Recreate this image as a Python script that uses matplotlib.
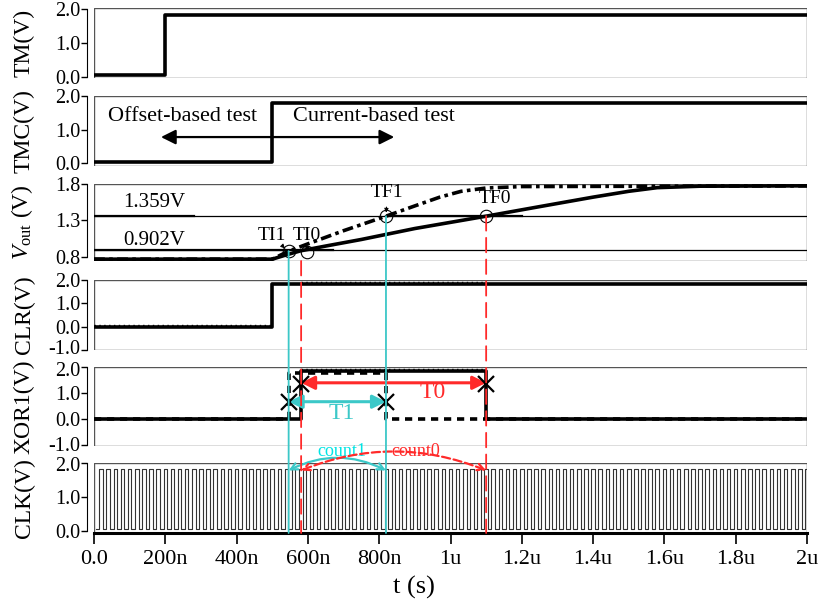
import numpy as np
import matplotlib
matplotlib.use("Agg")
import matplotlib.pyplot as plt
from matplotlib.patches import Rectangle, FancyArrowPatch, ConnectionPatch
from matplotlib.transforms import ScaledTranslation

plt.rcParams["font.family"] = ["Liberation Serif", "DejaVu Serif"]
plt.rcParams["mathtext.fontset"] = "custom"
plt.rcParams["mathtext.rm"] = "Liberation Serif"
plt.rcParams["mathtext.it"] = "Liberation Serif:italic"

# ---- data (time in us) ----
t_tm = [0.0, 0.2, 2.0]
tm = [0.06, 1.82, 1.82]

t_tmc = [0.0, 0.5, 2.0]
tmc = [0.04, 1.8, 1.8]

# Vout of the two runs (solid = case 0, dashed = case 1)
t_v0 = [0.0, 0.50, 0.54, 0.58, 0.65, 0.75, 0.90, 1.10, 1.25, 1.40, 1.50, 1.58, 1.70, 2.0]
v0 = [0.77, 0.77, 0.83, 0.885, 0.95, 1.04, 1.19, 1.359, 1.49, 1.62, 1.70, 1.75, 1.77, 1.775]
t_v1 = [0.0, 0.50, 0.546, 0.60, 0.70, 0.819, 0.90, 0.97, 1.03, 1.10, 1.20, 2.0]
v1 = [0.77, 0.77, 0.88, 0.98, 1.16, 1.359, 1.50, 1.62, 1.70, 1.745, 1.765, 1.775]
v_hi, v_lo = 1.359, 0.902

t_clr = [0.0, 0.5, 2.0]
clr = [0.0, 1.83, 1.83]

t_xor0 = [0.0, 0.581, 1.10, 2.0]
xor0 = [0.0, 1.84, 0.0, 0.0]
t_xor1 = [0.0, 0.546, 0.819, 2.0]
xor1 = [0.0, 1.78, 0.0, 0.0]

clk_period = 0.02   # 50 MHz
clk_hi, clk_lo = 1.82, 0.04

ti1, ti0, tf1, tf0 = 0.546, 0.581, 0.819, 1.10

xticks = [0.0, 0.2, 0.4, 0.6, 0.8, 1.0, 1.2, 1.4, 1.6, 1.8, 2.0]
xticklabels = ["0.0", "200n", "400n", "600n", "800n", "1u", "1.2u", "1.4u", "1.6u", "1.8u", "2u"]

CYAN = "#3cc8c8"
RED = "#ff2a2a"
LW = 2.6
YTICK_FS = 14.5

W, H = 821, 605
fig = plt.figure(figsize=(W / 100, H / 100), dpi=100)


def mkax(top, bot, ylim, yticks, ylabel):
    ax = fig.add_axes([94 / W, 1 - bot / H, (807 - 94) / W, (bot - top) / H])
    ax.set_xlim(0, 2.0)
    ax.set_ylim(*ylim)
    ax.tick_params(axis="y", direction="out", length=4, width=1, pad=1, labelsize=YTICK_FS)
    ax.set_yticks(yticks)
    ax.set_yticklabels([f"{v:.1f}" for v in yticks], fontsize=YTICK_FS)
    for s in ("top", "right", "bottom"):
        ax.spines[s].set_visible(False)
    ax.spines["left"].set_position(("outward", 5))
    ax.spines["left"].set_bounds(min(yticks), max(yticks))
    ax.add_patch(Rectangle((0, 0), 1, 1, transform=ax.transAxes, fill=False,
                           ec="#555555", lw=1.0, zorder=1))
    ax.set_xticks([])
    ax.set_ylabel(ylabel, fontsize=17)
    ax.yaxis.set_label_coords(-0.083, 0.5)
    return ax


def nudge(ax, idx, dy_px):
    lab = ax.yaxis.get_major_ticks()[idx].label1
    lab.set_transform(lab.get_transform() + ScaledTranslation(0, dy_px / 100, fig.dpi_scale_trans))


ax_tm = mkax(8, 78, (-0.03, 2.02), [0.0, 1.0, 2.0], "TM(V)")
ax_tmc = mkax(96, 166, (-0.08, 2.0), [0.0, 1.0, 2.0], "TMC(V)")
ax_v = mkax(184, 261, (0.745, 1.8), [0.8, 1.3, 1.8], r"$V_{\rm out}$ (V)")
ax_clr = mkax(280, 350, (-1.0, 2.0), [-1.0, 0.0, 1.0, 2.0], "CLR(V)")
ax_xor = mkax(367, 446, (-1.05, 2.0), [-1.0, 0.0, 1.0, 2.0], "XOR1(V)")
ax_clk = mkax(463, 533, (-0.07, 2.0), [0.0, 1.0, 2.0], "CLK(V)")
nudge(ax_clr, 0, 3)
nudge(ax_xor, 3, -2)
nudge(ax_xor, 0, 1)
nudge(ax_clk, 2, -1)

# TM / TMC
ax_tm.plot(t_tm, tm, drawstyle="steps-post", color="k", lw=LW)
ax_tmc.plot(t_tmc, tmc, drawstyle="steps-post", color="k", lw=LW)
ax_tmc.text(0.248, 1.38, "Offset-based test", ha="center", va="center", fontsize=16)
ax_tmc.text(0.785, 1.38, "Current-based test", ha="center", va="center", fontsize=16)
ax_tmc.annotate("", xy=(0.18, 0.78), xytext=(0.85, 0.78),
                arrowprops=dict(arrowstyle="<|-|>", color="k", lw=1.6, mutation_scale=22))

# Vout
ax_v.axhline(v_hi, color="k", lw=0.9)
ax_v.axhline(v_lo, color="k", lw=0.9)
ax_v.plot([0, 0.28], [v_hi, v_hi], color="k", lw=1.6)
ax_v.plot([0.82, 1.2], [v_hi, v_hi], color="k", lw=1.6)
ax_v.plot([0, 0.67], [v_lo, v_lo], color="k", lw=1.6)
ax_v.plot(t_v0, v0, color="k", lw=LW)
ax_v.plot(t_v1, v1, color="k", lw=LW, ls=(0, (3, 1.2, 1, 1.2)))
ax_v.text(0.17, 1.54, "1.359V", ha="center", va="center", fontsize=15)
ax_v.text(0.17, 1.03, "0.902V", ha="center", va="center", fontsize=15)
for x, y in [(ti1, 0.88), (ti0 + 0.017, 0.87), (tf1, v_hi), (tf0, v_hi)]:
    ax_v.plot(x, y, "o", ms=9, mfc="none", mec="k", mew=0.8, zorder=5)
ax_v.annotate("TI1", xy=(ti1 - 0.005, 0.89), xytext=(0.499, 1.10), ha="center", va="center",
              fontsize=14, arrowprops=dict(arrowstyle="-|>", color="k", lw=0.7, mutation_scale=6))
ax_v.annotate("TI0", xy=(ti0 + 0.017, 0.88), xytext=(0.598, 1.10), ha="center", va="center",
              fontsize=14, arrowprops=dict(arrowstyle="-|>", color="k", lw=0.7, mutation_scale=6))
ax_v.annotate("TF1", xy=(tf1, v_hi + 0.01), xytext=(0.823, 1.677), ha="center", va="center",
              fontsize=14, arrowprops=dict(arrowstyle="-|>", color="k", lw=0.7, mutation_scale=6))
ax_v.text(1.125, 1.60, "TF0", ha="center", va="center", fontsize=14)

# CLR
ax_clr.plot(t_clr, clr, drawstyle="steps-post", color="k", lw=LW)
ax_clr.plot([0.0, 0.5], [0.09, 0.09], color="k", lw=1.0, ls=(0, (1, 2.5)))
ax_clr.plot([0.581, 1.10], [1.93, 1.93], color="k", lw=1.0, ls=(0, (1, 2.5)))

# XOR1
ax_xor.plot(t_xor0, xor0, drawstyle="steps-post", color="k", lw=LW)
ax_xor.plot(t_xor1, xor1, drawstyle="steps-post", color="k", lw=LW, ls=(0, (2, 1.6)))
ax_xor.plot([0.581, 1.10], [1.93, 1.93], color="k", lw=1.0, ls=(0, (1, 2.5)))
ax_xor.plot([ti1, tf1], [0.66, 0.66], "x", color="k", ms=11, mew=1.6, zorder=6)
ax_xor.plot([ti0, tf0], [1.35, 1.35], "x", color="k", ms=11, mew=1.6, zorder=6)
ax_xor.annotate("", xy=(ti1, 0.66), xytext=(tf1, 0.66),
                arrowprops=dict(arrowstyle="<|-|>", color=CYAN, lw=2.2, mutation_scale=20, shrinkA=0, shrinkB=0))
ax_xor.annotate("", xy=(ti0, 1.39), xytext=(tf0, 1.39),
                arrowprops=dict(arrowstyle="<|-|>", color=RED, lw=2.2, mutation_scale=20, shrinkA=0, shrinkB=0))
ax_xor.text(0.695, 0.22, "T1", color=CYAN, ha="center", va="center", fontsize=17)
ax_xor.text(0.95, 1.0, "T0", color=RED, ha="center", va="center", fontsize=17)

# CLK
t_clk = np.arange(0.0, 2.0 + 1e-9, clk_period / 2)
clk = np.where(np.arange(len(t_clk)) % 2 == 0, clk_lo, clk_hi)
ax_clk.plot(t_clk + 0.005, clk, drawstyle="steps-post", color="#333333", lw=0.8)
ax_clk.tick_params(axis="x", direction="out", length=8, width=1.2, pad=4, labelsize=16)
ax_clk.set_xticks(xticks)
ax_clk.set_xticklabels(xticklabels, fontsize=16)
ax_clk.spines["bottom"].set_visible(True)
ax_clk.spines["bottom"].set_linewidth(2.2)
ax_clk.set_xlabel("t (s)", fontsize=19)
ax_clk.xaxis.set_label_coords(0.449, -0.62)

ax_clk.add_patch(FancyArrowPatch((ti1, 1.78), (tf1, 1.78), connectionstyle="arc3,rad=-0.25",
                                 arrowstyle="<->", color=CYAN, lw=1.6, mutation_scale=12,
                                 shrinkA=0, shrinkB=0, clip_on=False, zorder=6))
ax_clk.add_patch(FancyArrowPatch((ti0, 1.78), (tf0, 1.78), connectionstyle="arc3,rad=-0.2",
                                 arrowstyle="<->", color=RED, lw=1.6, ls="--", mutation_scale=12,
                                 shrinkA=0, shrinkB=0, clip_on=False, zorder=6))
ax_clk.text(0.695, 2.33, "count1", color="#00e5e5", ha="center", va="center", fontsize=13)
ax_clk.text(0.903, 2.33, "count0", color=RED, ha="center", va="center", fontsize=13)

# vertical markers spanning the panels
for x, y0, col, ls in [(ti1, 0.88, CYAN, "-"), (tf1, v_hi, CYAN, "-"),
                       (ti0, 0.745, RED, (0, (8, 4))), (tf0, v_hi, RED, (0, (8, 4)))]:
    con = ConnectionPatch(xyA=(x, y0), coordsA=ax_v.transData,
                          xyB=(x, -0.07), coordsB=ax_clk.transData,
                          color=col, lw=1.3, ls=ls, zorder=10)
    fig.add_artist(con)

fig.savefig("out.png", dpi=100)
